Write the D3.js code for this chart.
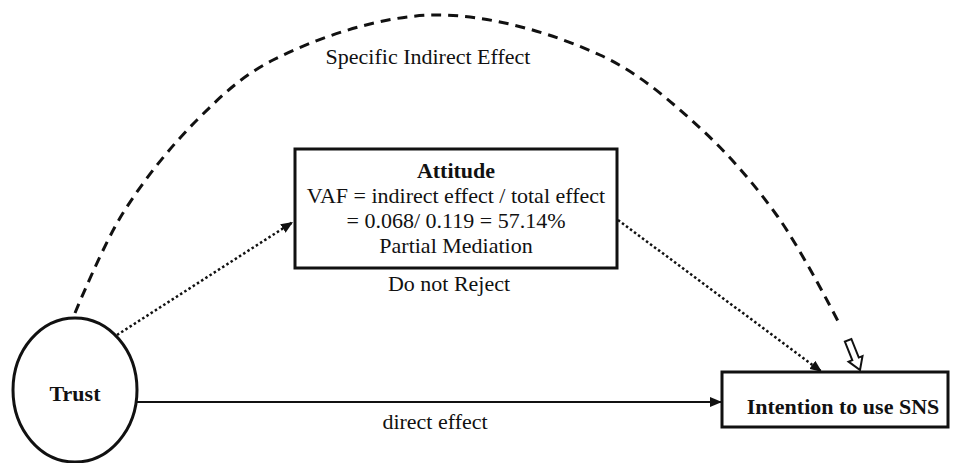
<!DOCTYPE html>
<html>
<head>
<meta charset="utf-8">
<script src="https://cdn.jsdelivr.net/npm/d3@7"></script>
<style>
  html, body { margin: 0; padding: 0; background: #fff; }
  svg text { font-family: "Liberation Serif", "Times New Roman", serif; fill: #111; }
</style>
</head>
<body>
<div id="chart"></div>
<script>
// model content
const nodeNames = ["Trust", "Attitude", "Intention to use SNS"];
const attitudeLines = ["VAF = indirect effect / total effect", "= 0.068/ 0.119 = 57.14%", "Partial Mediation"];
const mediationResult = "Do not Reject";
const pathLabels = ["Specific Indirect Effect", "direct effect"];

var width = 954, height = 463;
var svg = d3.select("#chart").append("svg")
    .attr("width", width).attr("height", height);

// layout
var trust = {cx: 75, cy: 390, rx: 62, ry: 72};
var att = {x: 295, y: 149, w: 322, h: 119};
var intent = {x: 722, y: 372, w: 226, h: 55};

var defs = svg.append("defs");
defs.append("marker")
    .attr("id", "head")
    .attr("viewBox", "0 0 12 10")
    .attr("refX", 12).attr("refY", 5)
    .attr("markerWidth", 12).attr("markerHeight", 10)
    .attr("markerUnits", "userSpaceOnUse")
    .attr("orient", "auto")
  .append("path")
    .attr("d", "M0,0 L12,5 L0,10 Z")
    .attr("fill", "#111");

// specific indirect effect (dashed arc)
var arcPts = [[75, 313], [123, 213], [197, 120], [273, 60], [433, 15], [600, 55], [700, 128], [778, 217], [840, 325]];
svg.append("path")
    .attr("d", d3.line().curve(d3.curveCatmullRom.alpha(0.5))(arcPts))
    .attr("fill", "none")
    .attr("stroke", "#111")
    .attr("stroke-width", 3)
    .attr("stroke-dasharray", "10,7");

// hollow block arrow at the end of the arc
var tip = [860, 370], ang = Math.atan2(30, 12) * 180 / Math.PI;
svg.append("path")
    .attr("d", "M0,0 L-12,-7.5 L-12,-3.5 L-32,-3.5 L-32,3.5 L-12,3.5 L-12,7.5 Z")
    .attr("transform", "translate(" + tip[0] + "," + tip[1] + ") rotate(" + ang + ")")
    .attr("fill", "#fff")
    .attr("stroke", "#111")
    .attr("stroke-width", 2)
    .attr("stroke-linejoin", "miter");

// dotted indirect paths
svg.append("line")
    .attr("x1", 117).attr("y1", 335).attr("x2", 293).attr("y2", 222)
    .attr("stroke", "#111").attr("stroke-width", 2.5)
    .attr("stroke-dasharray", "2.5,2.5")
    .attr("marker-end", "url(#head)");
svg.append("line")
    .attr("x1", att.x + att.w + 1).attr("y1", 220).attr("x2", 822).attr("y2", intent.y)
    .attr("stroke", "#111").attr("stroke-width", 2.5)
    .attr("stroke-dasharray", "2.5,2.5")
    .attr("marker-end", "url(#head)");

// direct effect
svg.append("line")
    .attr("x1", trust.cx + trust.rx).attr("y1", 402).attr("x2", intent.x).attr("y2", 402)
    .attr("stroke", "#111").attr("stroke-width", 2)
    .attr("marker-end", "url(#head)");

// nodes
svg.append("ellipse")
    .attr("cx", trust.cx).attr("cy", trust.cy)
    .attr("rx", trust.rx).attr("ry", trust.ry)
    .attr("fill", "#fff").attr("stroke", "#111").attr("stroke-width", 3);
svg.append("text")
    .attr("x", trust.cx).attr("y", 393)
    .attr("text-anchor", "middle").attr("dominant-baseline", "central")
    .attr("font-size", 22).attr("font-weight", "bold")
    .text(nodeNames[0]);

svg.append("rect")
    .attr("x", att.x).attr("y", att.y).attr("width", att.w).attr("height", att.h)
    .attr("fill", "#fff").attr("stroke", "#111").attr("stroke-width", 3);
var acx = att.x + att.w / 2;
svg.append("text")
    .attr("x", acx).attr("y", 170)
    .attr("text-anchor", "middle").attr("dominant-baseline", "central")
    .attr("font-size", 22).attr("font-weight", "bold")
    .text(nodeNames[1]);
svg.selectAll("text.att")
    .data(attitudeLines)
    .enter().append("text")
    .attr("class", "att")
    .attr("x", acx)
    .attr("y", (d, i) => 195 + i * 25)
    .attr("text-anchor", "middle").attr("dominant-baseline", "central")
    .attr("font-size", 22)
    .text(d => d);
svg.append("text")
    .attr("x", 449).attr("y", 283)
    .attr("text-anchor", "middle").attr("dominant-baseline", "central")
    .attr("font-size", 22)
    .text(mediationResult);

svg.append("rect")
    .attr("x", intent.x).attr("y", intent.y).attr("width", intent.w).attr("height", intent.h)
    .attr("fill", "#fff").attr("stroke", "#111").attr("stroke-width", 3);
svg.append("text")
    .attr("x", 843).attr("y", 406)
    .attr("text-anchor", "middle").attr("dominant-baseline", "central")
    .attr("font-size", 22).attr("font-weight", "bold")
    .text(nodeNames[2]);

// path labels
svg.append("text")
    .attr("x", 428).attr("y", 56)
    .attr("text-anchor", "middle").attr("dominant-baseline", "central")
    .attr("font-size", 22)
    .text(pathLabels[0]);
svg.append("text")
    .attr("x", 435).attr("y", 421)
    .attr("text-anchor", "middle").attr("dominant-baseline", "central")
    .attr("font-size", 22)
    .text(pathLabels[1]);
</script>
</body>
</html>
